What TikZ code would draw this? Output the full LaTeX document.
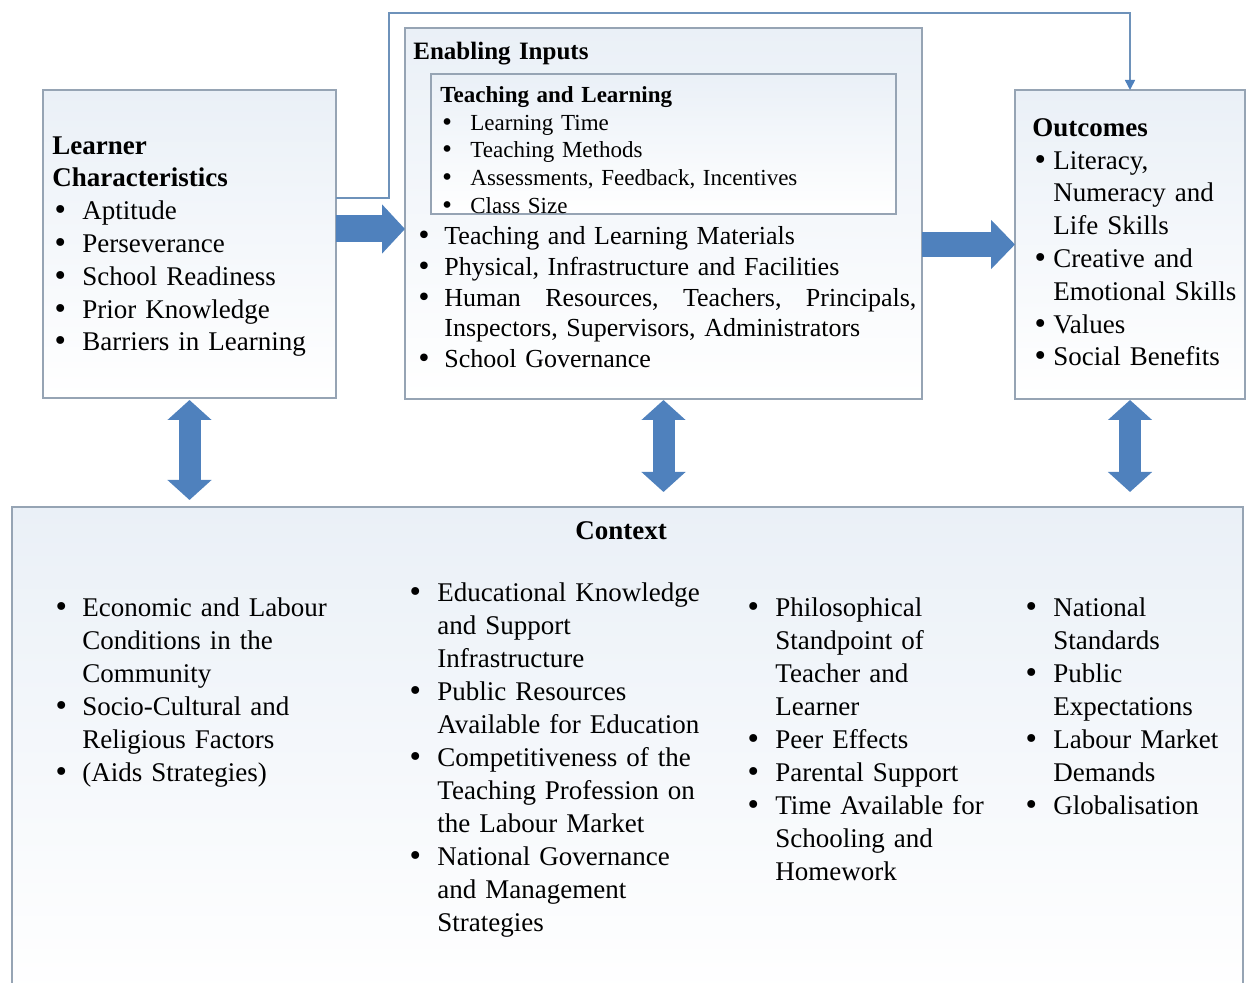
\documentclass[tikz,border=0pt]{standalone}
\usepackage{fontspec}
\setmainfont{Liberation Serif}
\newfontfamily\bulletfont{DejaVu Sans}
\usetikzlibrary{arrows.meta}

\definecolor{boxline}{RGB}{150,164,180}
\definecolor{boxtint}{RGB}{234,240,247}
\definecolor{arrowblue}{RGB}{79,129,189}
\definecolor{fbblue}{RGB}{110,146,186}

\newcommand\mainsize{\fontsize{13.5}{16.4}\selectfont}
\newcommand\midsize{\fontsize{13}{15.4}\selectfont}
\newcommand\innersize{\fontsize{11.5}{13.85}\selectfont}
\newcommand\ctxsize{\fontsize{13.5}{16.5}\selectfont}
% bullet mark, larger than the plain one
\newcommand\bul{{\bulletfont •}}
% first item of a list, and the items after it
\newcommand\fitm[1][15pt]{\hangindent=#1\relax\hangafter=1\relax\makebox[#1][l]{\bul}\ignorespaces}
\newcommand\itm[1][15pt]{\par\noindent\fitm[#1]}

\begin{document}
\begin{tikzpicture}[x=0.5pt,y=-0.5pt,
    box/.style={draw=boxline, line width=0.8pt, top color=boxtint, bottom color=white,
        inner sep=0pt, outer sep=0pt, anchor=north west},
    txt/.style={anchor=north west, inner sep=0pt, align=left, text width=#1},
    blockarrow/.style={draw=arrowblue, line width=#1},
    dblarrow/.style={draw=arrowblue, line width=11pt,
        {Triangle[length=10pt,width=21.5pt]}-{Triangle[length=10pt,width=21.5pt]}},
    fbline/.style={draw=fbblue, line width=0.8pt,
        -{Triangle[length=5pt,width=5pt,color=arrowblue]}}]
    \def\W{1247}
    \def\H{983}
    \useasboundingbox (0,0) rectangle (\W,\H);

    % the four boxes
    \node[box, minimum width=146.5pt, minimum height=154pt] (learner) at (43,90) {};
    \node[box, minimum width=258.5pt, minimum height=185.5pt] (inputs) at (405,28) {};
    \node[box, minimum width=232.5pt, minimum height=70pt] (teach) at (431,74) {};
    \node[box, minimum width=115pt, minimum height=154.5pt] (outcomes) at (1015,90) {};
    \node[box, minimum width=615.5pt, minimum height=245pt] (context) at (12,507) {};

    % learner
    \node[txt=140pt, font=\mainsize] (learnertxt) at (52,136)
        {\textbf{Learner\newline Characteristics}
         \itm Aptitude \itm Perseverance \itm School Readiness
         \itm Prior Knowledge \itm Barriers in Learning\par};

    % enabling inputs
    \node[txt=200pt, font=\bfseries\fontsize{12.5}{15}\selectfont] (inputshead) at (413,42)
        {Enabling Inputs};
    \node[txt=220pt, font=\innersize] (teachtxt) at (440,86)
        {\textbf{Teaching and Learning}
         \itm Learning Time \itm Teaching Methods
         \itm Assessments, Feedback, Incentives \itm Class Size\par};
    \node[txt=250pt, font=\midsize] (inputstxt) at (416,226)
        {\fitm[14pt] Teaching and Learning Materials
         \itm[14pt] Physical, Infrastructure and Facilities
         \itm[14pt] Human\hfill Resources,\hfill Teachers,\hfill Principals,\newline
            Inspectors, Supervisors, Administrators
         \itm[14pt] School Governance\par};

    % outcomes
    \node[txt=110pt, font=\mainsize] (outcomestxt) at (1032,118)
        {\textbf{Outcomes}
         \itm[10.5pt] Literacy,\newline Numeracy and\newline Life Skills
         \itm[10.5pt] Creative and\newline Emotional Skills
         \itm[10.5pt] Values \itm[10.5pt] Social Benefits\par};

    % context
    \node[anchor=base, inner sep=0pt, font=\bfseries\mainsize] (contexthead) at (621,539) {Context};
    \node[txt=150pt, font=\ctxsize] (col1) at (53,597)
        {\fitm[14.5pt] Economic and Labour\newline Conditions in the\newline Community
         \itm[14.5pt] Socio-Cultural and\newline Religious Factors
         \itm[14.5pt] (Aids Strategies)\par};
    \node[txt=160pt, font=\ctxsize] (col2) at (407,582)
        {\fitm Educational Knowledge\newline and Support\newline Infrastructure
         \itm Public Resources\newline Available for Education
         \itm Competitiveness of the\newline Teaching Profession on\newline the Labour Market
         \itm National Governance\newline and Management\newline Strategies\par};
    \node[txt=150pt, font=\ctxsize] (col3) at (745,597)
        {\fitm Philosophical\newline Standpoint of\newline Teacher and\newline Learner
         \itm Peer Effects \itm Parental Support
         \itm Time Available for\newline Schooling and\newline Homework\par};
    \node[txt=120pt, font=\ctxsize] (col4) at (1023,597)
        {\fitm National\newline Standards \itm Public\newline Expectations
         \itm Labour Market\newline Demands \itm Globalisation\par};

    % block arrows
    \draw[blockarrow=13.5pt, -{Triangle[length=11.5pt,width=24pt]}]
        ([yshift=7.5pt]learner.east) -- ([yshift=7.5pt]learner.east -| inputs.west);
    \draw[blockarrow=12.5pt, -{Triangle[length=12pt,width=24pt]}]
        (inputs.east |- outcomes.west) -- (outcomes.west);
    \draw[dblarrow, shorten <=1pt, shorten >=3.5pt] (learner.south) -- (learner.south |- context.north);
    \draw[dblarrow, shorten <=0.5pt, shorten >=7.5pt] (inputs.south) -- (inputs.south |- context.north);
    \draw[dblarrow, shorten <=0.5pt, shorten >=7.5pt] (outcomes.south) -- (outcomes.south |- context.north);

    % feedback line over the top
    \coordinate (fbcorner) at (389,13);
    \draw[fbline] ([yshift=23pt]learner.east) -| (fbcorner) -| (outcomes.north);
\end{tikzpicture}
\end{document}
